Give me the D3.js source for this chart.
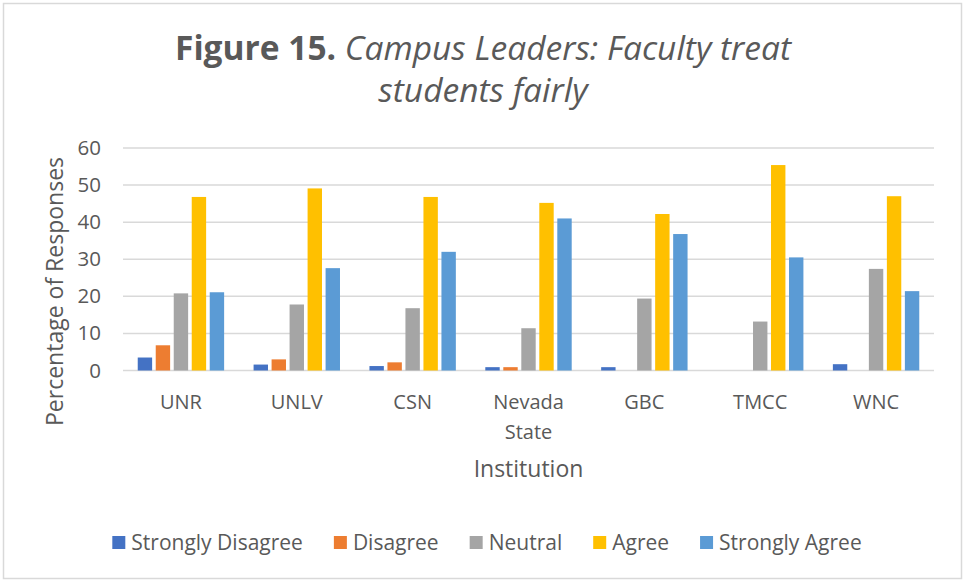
<!DOCTYPE html>
<html>
<head>
<meta charset="utf-8">
<script src="https://cdn.jsdelivr.net/npm/d3@7"></script>
<style>
  body { margin: 0; background: #fff; }
  text { font-family: "Open Sans", sans-serif; fill: #595959; }
</style>
</head>
<body>
<div id="chart"></div>
<script>
/**
 * DATA
 * */
const institutions = ["UNR", "UNLV", "CSN", "Nevada State", "GBC", "TMCC", "WNC"];
const seriesNames = ["Strongly Disagree", "Disagree", "Neutral", "Agree", "Strongly Agree"];
const stronglyDisagree = [3.5, 1.6, 1.2, 0.9, 0.9, 0, 1.7];
const disagree = [6.8, 3.0, 2.2, 0.9, 0, 0, 0];
const neutral = [20.8, 17.8, 16.8, 11.4, 19.4, 13.2, 27.4];
const agree = [46.8, 49.1, 46.8, 45.2, 42.2, 55.4, 47.0];
const stronglyAgree = [21.1, 27.6, 32.0, 41.0, 36.8, 30.5, 21.4];
const yTicks = [0, 10, 20, 30, 40, 50, 60];

const seriesValues = [stronglyDisagree, disagree, neutral, agree, stronglyAgree];
const colors = ["#4472C4", "#ED7D31", "#A5A5A5", "#FFC000", "#5B9BD5"];

/**
 * CONSTANTS
 * */
const width = 965,
  height = 582,
  plot = { left: 123, right: 934, top: 148, bottom: 370.5 };

const svg = d3.select("#chart")
  .append("svg")
  .attr("width", width)
  .attr("height", height);

// chart border
svg.append("rect")
  .attr("x", 3.5).attr("y", 3.5)
  .attr("width", 958).attr("height", 575)
  .attr("fill", "#fff")
  .attr("stroke", "#d9d9d9")
  .attr("stroke-width", 1.5);

// title
const title = svg.append("text")
  .attr("text-anchor", "middle")
  .style("font-size", "33.5px");
const line1 = title.append("tspan").attr("x", 483).attr("y", 60);
line1.append("tspan").style("font-weight", "bold").text("Figure 15.");
line1.append("tspan").style("font-style", "italic").text(" Campus Leaders: Faculty treat");
title.append("tspan")
  .attr("x", 483).attr("y", 102)
  .style("font-style", "italic")
  .text("students fairly");

// scales
const x0 = d3.scaleBand()
  .domain(institutions)
  .range([plot.left, plot.right]);

const x1 = d3.scaleBand()
  .domain(seriesNames)
  .range([0, 90])
  .paddingInner(0.2)
  .paddingOuter(0.1);

const y = d3.scaleLinear()
  .domain([0, 60])
  .range([plot.bottom, plot.top]);

// gridlines
svg.append("g")
  .selectAll("line")
  .data(yTicks)
  .join("line")
  .attr("x1", plot.left).attr("x2", plot.right)
  .attr("y1", d => y(d)).attr("y2", d => y(d))
  .attr("stroke", "#d9d9d9")
  .attr("stroke-width", 1.5);

// y tick labels
const yAxis = d3.axisLeft(y).tickValues(yTicks).tickSize(0).tickPadding(0);
const yg = svg.append("g")
  .attr("transform", `translate(${plot.left - 22},0)`)
  .call(yAxis);
yg.select(".domain").remove();
yg.selectAll("text")
  .style("font-size", "20.5px")
  .attr("fill", "#595959")
  .attr("font-family", "Open Sans, sans-serif");

// bars
const groups = svg.append("g")
  .selectAll("g")
  .data(institutions)
  .join("g")
  .attr("transform", d => `translate(${x0(d) + (x0.bandwidth() - 90) / 2},0)`);

groups.selectAll("rect")
  .data((d, i) => seriesNames.map((s, j) => ({ series: s, value: seriesValues[j][i], idx: j })))
  .join("rect")
  .attr("x", d => x1(d.series))
  .attr("width", x1.bandwidth())
  .attr("y", d => y(d.value))
  .attr("height", d => y(0) - y(d.value))
  .attr("fill", d => colors[d.idx]);

// category labels
const cat = svg.append("g")
  .selectAll("text")
  .data(institutions)
  .join("text")
  .attr("text-anchor", "middle")
  .style("font-size", "20px")
  .attr("x", d => x0(d) + x0.bandwidth() / 2)
  .attr("y", 409);
cat.each(function(d) {
  const words = d === "Nevada State" ? ["Nevada", "State"] : [d];
  const t = d3.select(this);
  words.forEach((w, k) => {
    t.append("tspan")
      .attr("x", x0(d) + x0.bandwidth() / 2)
      .attr("dy", k === 0 ? 0 : 30)
      .text(w);
  });
});

// axis titles
svg.append("text")
  .attr("text-anchor", "middle")
  .attr("x", (plot.left + plot.right) / 2)
  .attr("y", 477)
  .style("font-size", "23px")
  .text("Institution");

svg.append("text")
  .attr("text-anchor", "middle")
  .attr("transform", "translate(63,291.5) rotate(-90)")
  .style("font-size", "23px")
  .text("Percentage of Responses");

// legend
const legend = svg.append("g");
const items = legend.selectAll("g")
  .data(seriesNames)
  .join("g");
items.append("rect")
  .attr("width", 13).attr("height", 13)
  .attr("y", 536)
  .attr("fill", (d, i) => colors[i]);
items.append("text")
  .attr("x", 19)
  .attr("y", 549.5)
  .style("font-size", "21px")
  .text(d => d);

let pos = 0;
const offsets = [];
items.each(function() {
  const w = d3.select(this).select("text").node().getComputedTextLength();
  offsets.push(pos);
  pos += 19 + w + 31;
});
const total = pos - 31;
const start = 487 - total / 2;
items.attr("transform", (d, i) => `translate(${start + offsets[i]},0)`);
</script>
</body>
</html>
